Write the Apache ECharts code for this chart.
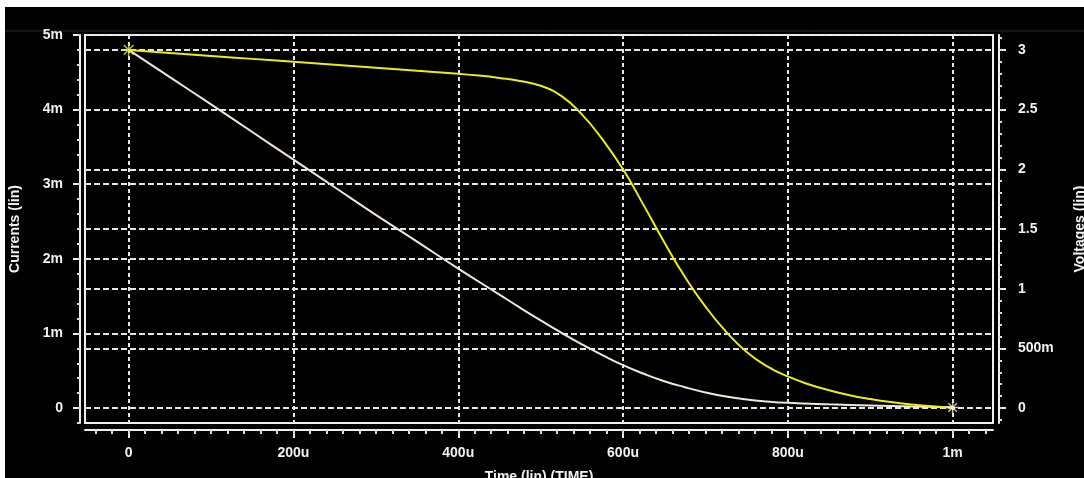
<!DOCTYPE html>
<html>
<head>
<meta charset="utf-8">
<script src="https://cdn.jsdelivr.net/npm/echarts@6/dist/echarts.min.js"></script>
<style>
html, body { margin: 0; background: #fff; }
#chart { position: absolute; left: 0; top: 0; width: 1084px; height: 478px; }
</style>
</head>
<body>
<div id="chart"></div>
<script>
// time in µs, currents in mA, voltages in V
const timeTicks = [0, 200, 400, 600, 800, 1000];
const currentTicks = [0, 1, 2, 3, 4, 5];
const voltageTicks = [0, 0.5, 1, 1.5, 2, 2.5, 3];

// yellow trace (right axis)
const voltageTime = [0, 50, 100, 150, 200, 250, 300, 350, 400, 425, 450, 475, 500, 525, 550, 575, 600, 625, 650, 675, 700, 725, 750, 775, 800, 825, 850, 875, 900, 925, 950, 975, 1000];
const voltageValues = [3.0, 2.975, 2.95, 2.925, 2.9, 2.875, 2.85, 2.825, 2.8, 2.785, 2.765, 2.74, 2.7, 2.615, 2.46, 2.25, 2.0, 1.7, 1.39, 1.1, 0.85, 0.64, 0.47, 0.35, 0.265, 0.2, 0.15, 0.108, 0.076, 0.05, 0.03, 0.015, 0.005];

// white trace (left axis)
const currentTime = [0, 50, 100, 150, 200, 250, 300, 350, 400, 450, 475, 500, 525, 550, 575, 600, 625, 650, 675, 700, 725, 750, 775, 800, 850, 900, 950, 1000];
const currentValues = [4.8, 4.435, 4.07, 3.7, 3.33, 2.96, 2.59, 2.23, 1.87, 1.52, 1.345, 1.175, 1.01, 0.855, 0.71, 0.575, 0.46, 0.36, 0.28, 0.21, 0.155, 0.115, 0.088, 0.07, 0.05, 0.035, 0.02, 0.01];

const startMarker = [[0, 3.0]];
const endMarker = [[1000, 0.005]];

// minor tick positions along each axis
function stepList(from, to, step) {
    const out = [];
    for (let v = from; v <= to + 1e-9; v += step) out.push(+v.toFixed(3));
    return out;
}
const timeMinor = stepList(-40, 1040, 20);
const currentMinor = stepList(-0.2, 5, 0.2);
const voltageMinor = stepList(-0.1, 3.1, 0.1);

const labelFont = {
    color: '#f2f2f2',
    fontSize: 14,
    fontWeight: 'bold',
    fontFamily: '"Liberation Sans", Arial, sans-serif'
};
const gridDash = { color: '#e6e6e6', width: 2, type: [6, 3] };
const axisLineStyle = { show: true, onZero: false, lineStyle: { color: '#f0f0f0', width: 2 } };
const starPath = 'path://M0,-10L0,10M-10,0L10,0M-7,-7L7,7M-7,7L7,-7';

const chart = echarts.init(document.getElementById('chart'), null, { renderer: 'canvas' });

chart.setOption({
    backgroundColor: '#000',
    animation: false,
    grid: {
        left: 85, right: 91, top: 35, bottom: 55,
        outerBoundsMode: 'none', containLabel: false,
        show: true, borderColor: '#f0f0f0', borderWidth: 2
    },
    graphic: [
        { type: 'rect', shape: { x: 0, y: 0, width: 1084, height: 7 }, style: { fill: '#fff' } },
        { type: 'rect', shape: { x: 0, y: 0, width: 5, height: 478 }, style: { fill: '#fff' } },
        { type: 'line', shape: { x1: 5, y1: 31, x2: 1084, y2: 31 }, style: { stroke: '#2a2a2a', lineWidth: 1 } }
    ],
    xAxis: [
        {
            type: 'value', min: -53, max: 1049, position: 'bottom', offset: 7,
            name: 'Time (lin) (TIME)', nameLocation: 'middle', nameGap: 40,
            nameTextStyle: labelFont,
            axisLine: axisLineStyle,
            axisTick: { show: true, length: 8, customValues: timeTicks, lineStyle: { color: '#f0f0f0', width: 2 } },
            axisLabel: Object.assign({
                margin: 16, customValues: timeTicks,
                formatter: v => v === 0 ? '0' : (v >= 1000 ? (v / 1000) + 'm' : v + 'u')
            }, labelFont),
            splitLine: { show: true, lineStyle: { color: '#e6e6e6', width: 2, type: [4, 3] } }
        },
        {
            type: 'value', min: -53, max: 1049, position: 'bottom', offset: 7,
            axisLine: { show: false, onZero: false },
            axisTick: { show: true, length: 4, customValues: timeMinor, lineStyle: { color: '#d8d8d8', width: 2 } },
            axisLabel: { show: false },
            splitLine: { show: false }
        }
    ],
    yAxis: [
        {
            type: 'value', min: -0.2, max: 5, position: 'left', offset: 5,
            name: 'Currents (lin)', nameLocation: 'middle', nameRotate: 90, nameGap: 58,
            nameTextStyle: labelFont,
            axisLine: axisLineStyle,
            axisTick: { show: true, length: 7, customValues: currentTicks, lineStyle: { color: '#f0f0f0', width: 2 } },
            axisLabel: Object.assign({
                margin: 17, customValues: currentTicks,
                formatter: v => v === 0 ? '0' : v + 'm'
            }, labelFont),
            splitLine: { show: true, lineStyle: gridDash }
        },
        {
            type: 'value', min: -0.125, max: 3.125, position: 'right', offset: 6,
            name: 'Voltages (lin)', nameLocation: 'middle', nameRotate: 90, nameGap: 74,
            nameTextStyle: labelFont,
            axisLine: axisLineStyle,
            axisTick: { show: true, length: 7, customValues: voltageTicks, lineStyle: { color: '#f0f0f0', width: 2 } },
            axisLabel: Object.assign({
                margin: 19, customValues: voltageTicks,
                formatter: v => v === 0 ? '0' : (v < 1 ? Math.round(v * 1000) + 'm' : String(v))
            }, labelFont),
            splitLine: { show: true, lineStyle: gridDash }
        },
        {
            type: 'value', min: -0.2, max: 5, position: 'left', offset: 5,
            axisLine: { show: false, onZero: false },
            axisTick: { show: true, length: 3, customValues: currentMinor, lineStyle: { color: '#d8d8d8', width: 2 } },
            axisLabel: { show: false },
            splitLine: { show: false }
        },
        {
            type: 'value', min: -0.125, max: 3.125, position: 'right', offset: 6,
            axisLine: { show: false, onZero: false },
            axisTick: { show: true, length: 3, customValues: voltageMinor, lineStyle: { color: '#d8d8d8', width: 2 } },
            axisLabel: { show: false },
            splitLine: { show: false }
        }
    ],
    series: [
        {
            name: 'current', type: 'line', xAxisIndex: 0, yAxisIndex: 0,
            data: currentTime.map((t, i) => [t, currentValues[i]]),
            showSymbol: false, smooth: 0.5,
            lineStyle: { color: '#f1e6da', width: 2 }, z: 3
        },
        {
            name: 'voltage', type: 'line', xAxisIndex: 0, yAxisIndex: 1,
            data: voltageTime.map((t, i) => [t, voltageValues[i]]),
            showSymbol: false, smooth: 0.5,
            lineStyle: { color: '#ecec1c', width: 2 }, z: 4
        },
        {
            type: 'scatter', xAxisIndex: 0, yAxisIndex: 1, data: startMarker,
            symbol: starPath, symbolSize: 14,
            itemStyle: { color: 'transparent', borderColor: '#e6e65a', borderWidth: 1.5 }, z: 5
        },
        {
            type: 'scatter', xAxisIndex: 0, yAxisIndex: 1, data: endMarker,
            symbol: starPath, symbolSize: 12,
            itemStyle: { color: 'transparent', borderColor: '#f4f0d0', borderWidth: 1.5 }, z: 5
        }
    ]
});
</script>
</body>
</html>
